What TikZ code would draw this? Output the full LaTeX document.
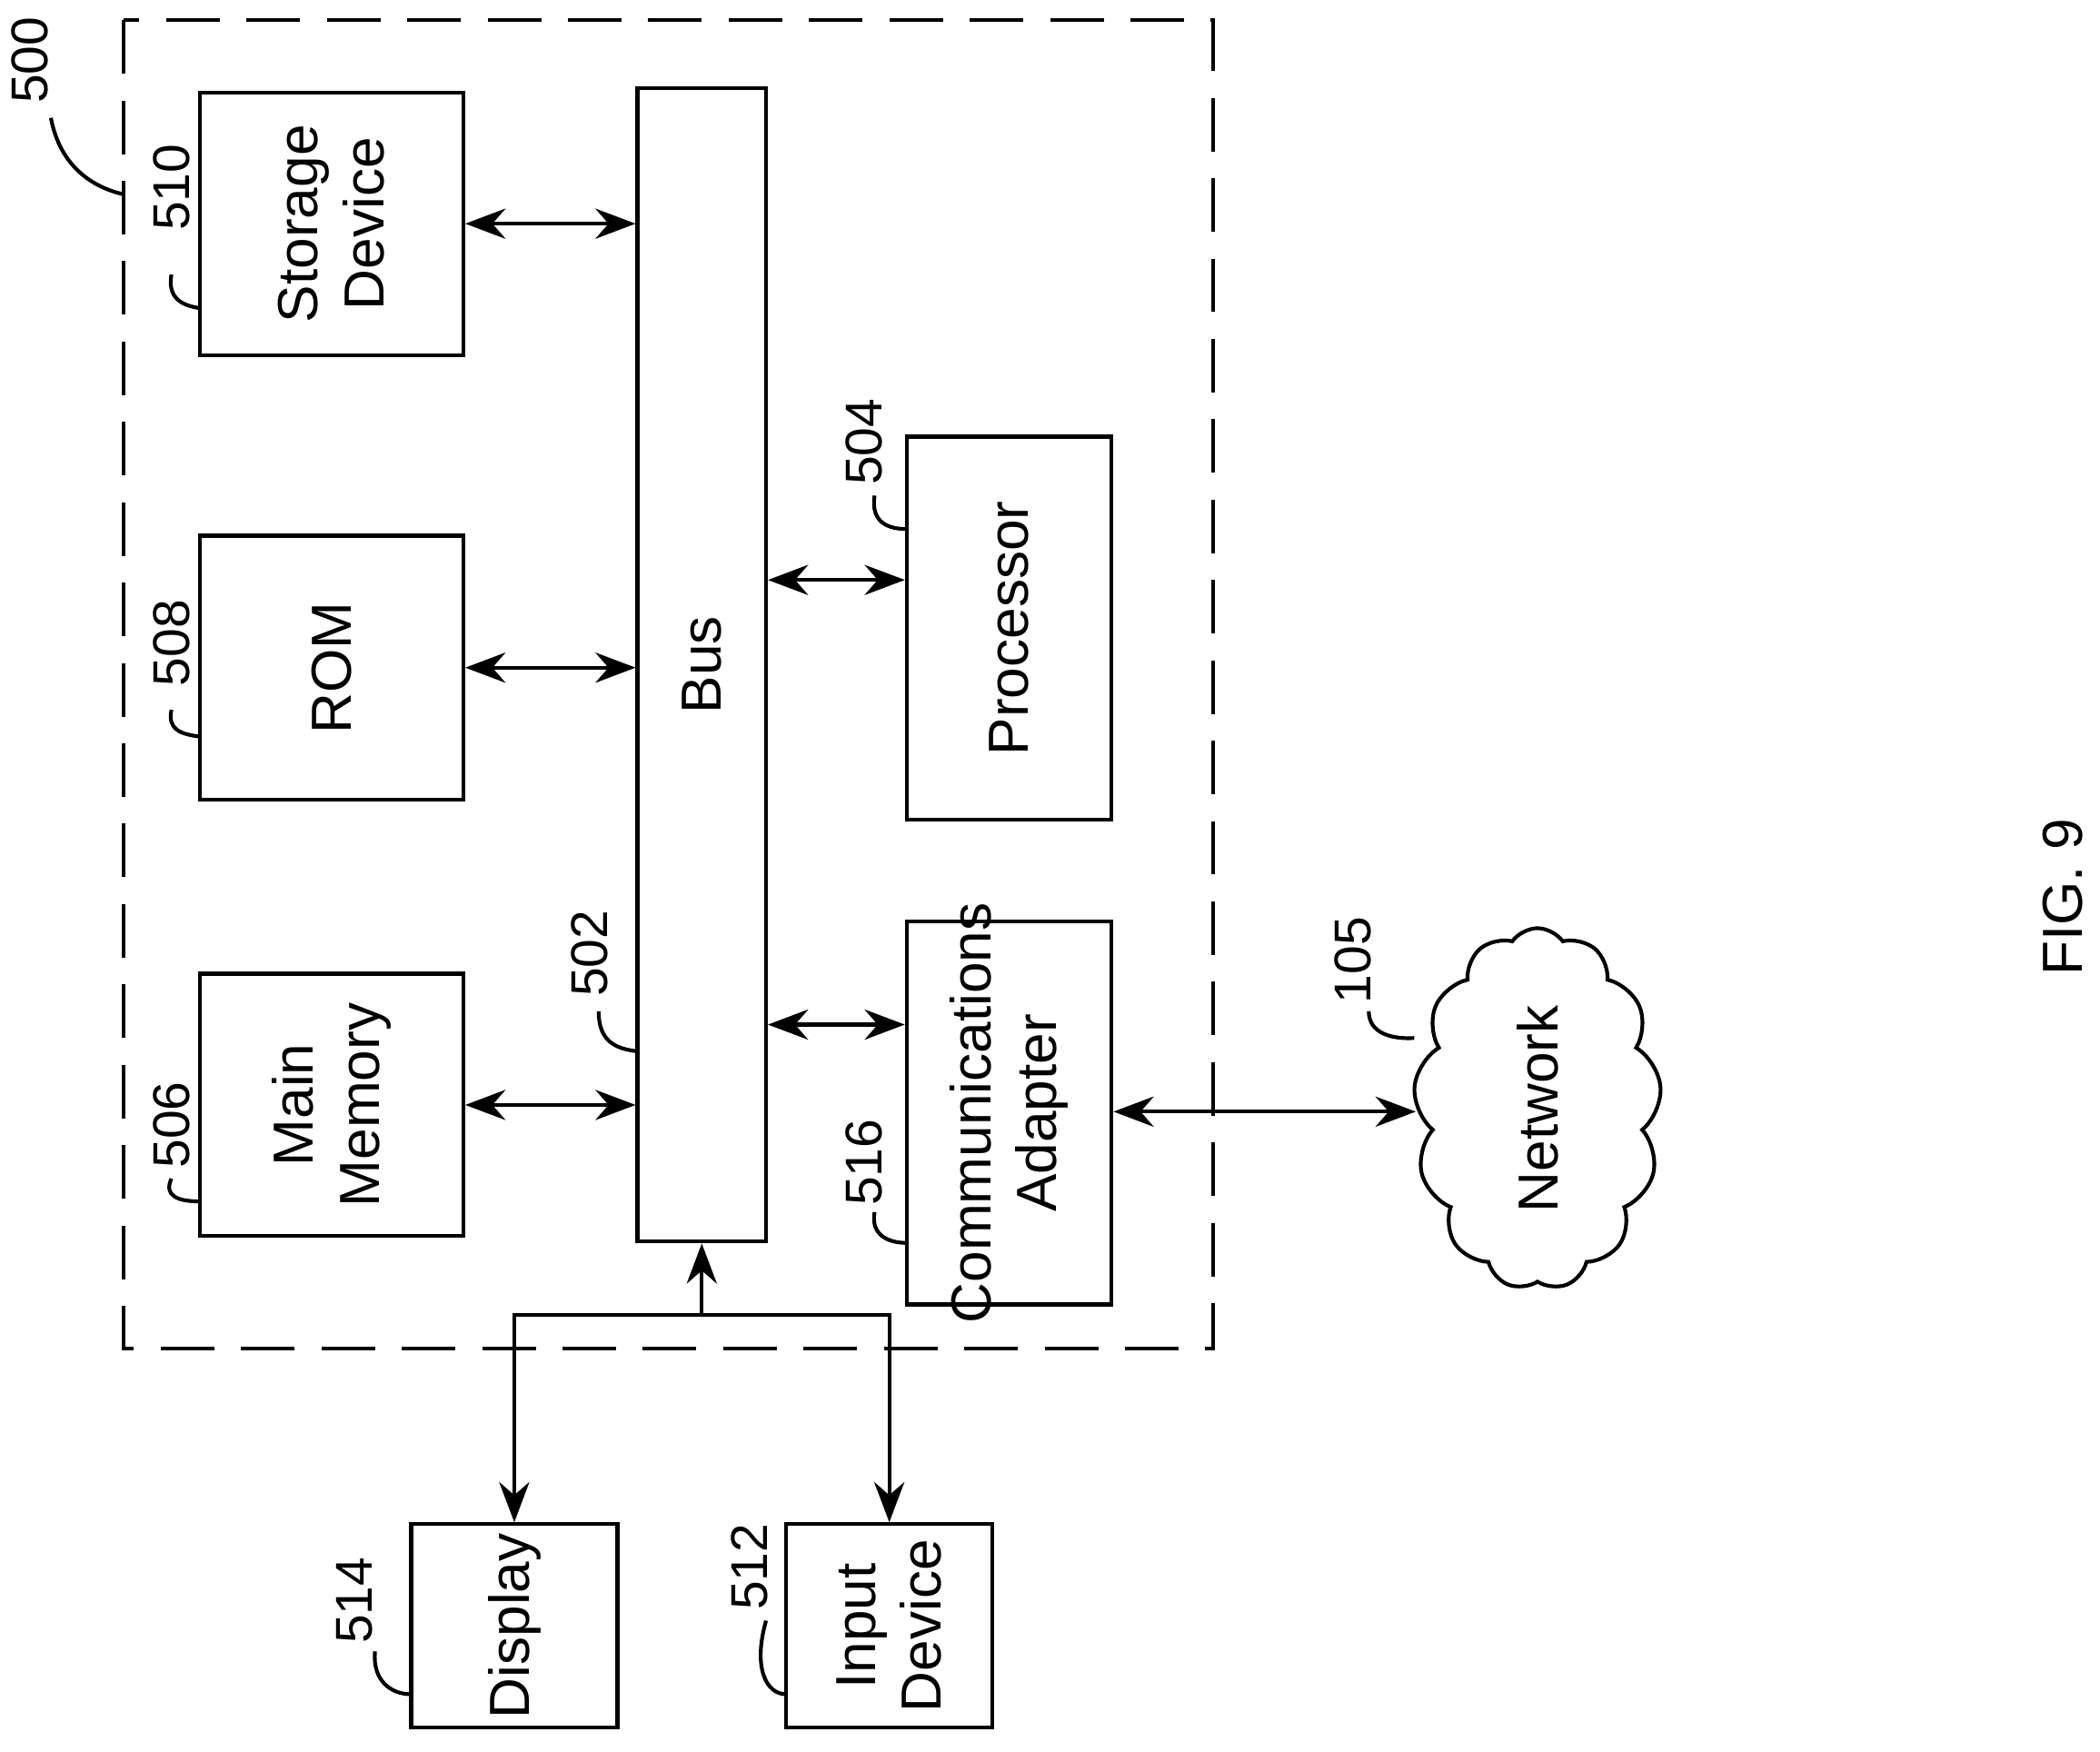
\documentclass[tikz,border=0pt]{standalone}
\usepackage{fontspec}
\setmainfont{Liberation Sans}
\usetikzlibrary{arrows.meta,shapes.symbols}
\tikzset{
    blk/.style={draw,thick,inner sep=0pt},
    txt/.style={rotate=90,align=center,font=\fontsize{12}{14}\selectfont},
    num/.style={rotate=90,font=\fontsize{11}{13}\selectfont},
    bi/.style={{Stealth[length=3mm]}-{Stealth[length=3mm]},thick},
    uni/.style={-{Stealth[length=3mm]},thick},
    lead/.style={thick}
}
\begin{document}
\begin{tikzpicture}[x=0.1mm,y=-0.1mm]
\useasboundingbox (0,0) rectangle (1568,1308);

% system boundary
\draw[thick,dash pattern=on 4mm off 2mm] (92,15) rectangle (906,1007);

% blocks
\node[blk,minimum width=19.7mm,minimum height=19.6mm] (sto) at (247.5,167) {};
\node[blk,minimum width=19.7mm,minimum height=19.7mm] (rom) at (247.5,498.5) {};
\node[blk,minimum width=19.7mm,minimum height=19.6mm] (mem) at (247.5,825) {};
\node[blk,minimum width=9.6mm,minimum height=86.1mm] (bus) at (524,496.5) {};
\node[blk,minimum width=15.3mm,minimum height=28.6mm] (cpu) at (753.5,469) {};
\node[blk,minimum width=15.3mm,minimum height=28.6mm] (com) at (753.5,831) {};
\node[blk,minimum width=15.4mm,minimum height=15.2mm] (dsp) at (384,1214) {};
\node[blk,minimum width=15.4mm,minimum height=15.2mm] (inp) at (664,1214) {};
\node[draw,thick,cloud,cloud puffs=13,cloud puff arc=110,aspect=0.7,
      minimum width=18.5mm,minimum height=27mm,inner sep=0pt] (net) at (1148,828) {};

% texts
\node[txt] at (sto) {Storage\\Device};
\node[txt] at (rom) {ROM};
\node[txt] at (mem) {Main\\Memory};
\node[txt] at (bus) {Bus};
\node[txt] at (cpu) {Processor};
\node[txt] at (com) {Communications\\Adapter};
\node[txt] at (dsp) {Display};
\node[txt] at (inp) {Input\\Device};
\node[txt] at (net) {Network};
\node[txt] (fig) at (1540,670) {FIG. 9};

% connectors
\draw[bi] (sto.east) -- (sto.east -| bus.west);
\draw[bi] (rom.east) -- (rom.east -| bus.west);
\draw[bi] (mem.east) -- (mem.east -| bus.west);
\draw[bi] (bus.east |- 0,433) -- (cpu.west |- 0,433);
\draw[bi] (bus.east |- 0,765) -- (com.west |- 0,765);
\draw[bi] (com.east |- 0,830) -- (net.west |- 0,830);
\coordinate (split) at (524,982);
\draw[uni] (split) -- (bus.south);
\draw[uni] (split) -| (dsp.north);
\draw[uni] (split) -| (inp.north);

% reference numerals
\node[num] (n500) at (22,45) {500};
\draw[lead] (38,88) .. controls (45,125) and (70,140) .. (92,145);
\node[num] at (128,140) {510};
\draw[lead] (128,205) .. controls (125,222) and (135,228) .. (149,230);
\node[num] at (128,480) {508};
\draw[lead] (128,530) .. controls (125,545) and (135,548) .. (149,550);
\node[num] at (128,840) {506};
\draw[lead] (128,880) .. controls (122,893) and (133,897) .. (149,897);
\node[num] at (440,712) {502};
\draw[lead] (447,755) .. controls (447,778) and (460,783) .. (476,785);
\node[num] at (645,330) {504};
\draw[lead] (653,370) .. controls (650,390) and (663,395) .. (677,395);
\node[num] at (645,868) {516};
\draw[lead] (653,905) .. controls (650,922) and (663,928) .. (677,928);
\node[num] at (1010,717) {105};
\draw[lead] (1022,755) .. controls (1022,772) and (1040,776) .. (1056,775);
\node[num] at (265,1195) {514};
\draw[lead] (280,1233) .. controls (278,1255) and (292,1265) .. (307,1265);
\node[num] at (560,1170) {512};
\draw[lead] (572,1210) .. controls (562,1245) and (572,1265) .. (587,1265);
\end{tikzpicture}
\end{document}
